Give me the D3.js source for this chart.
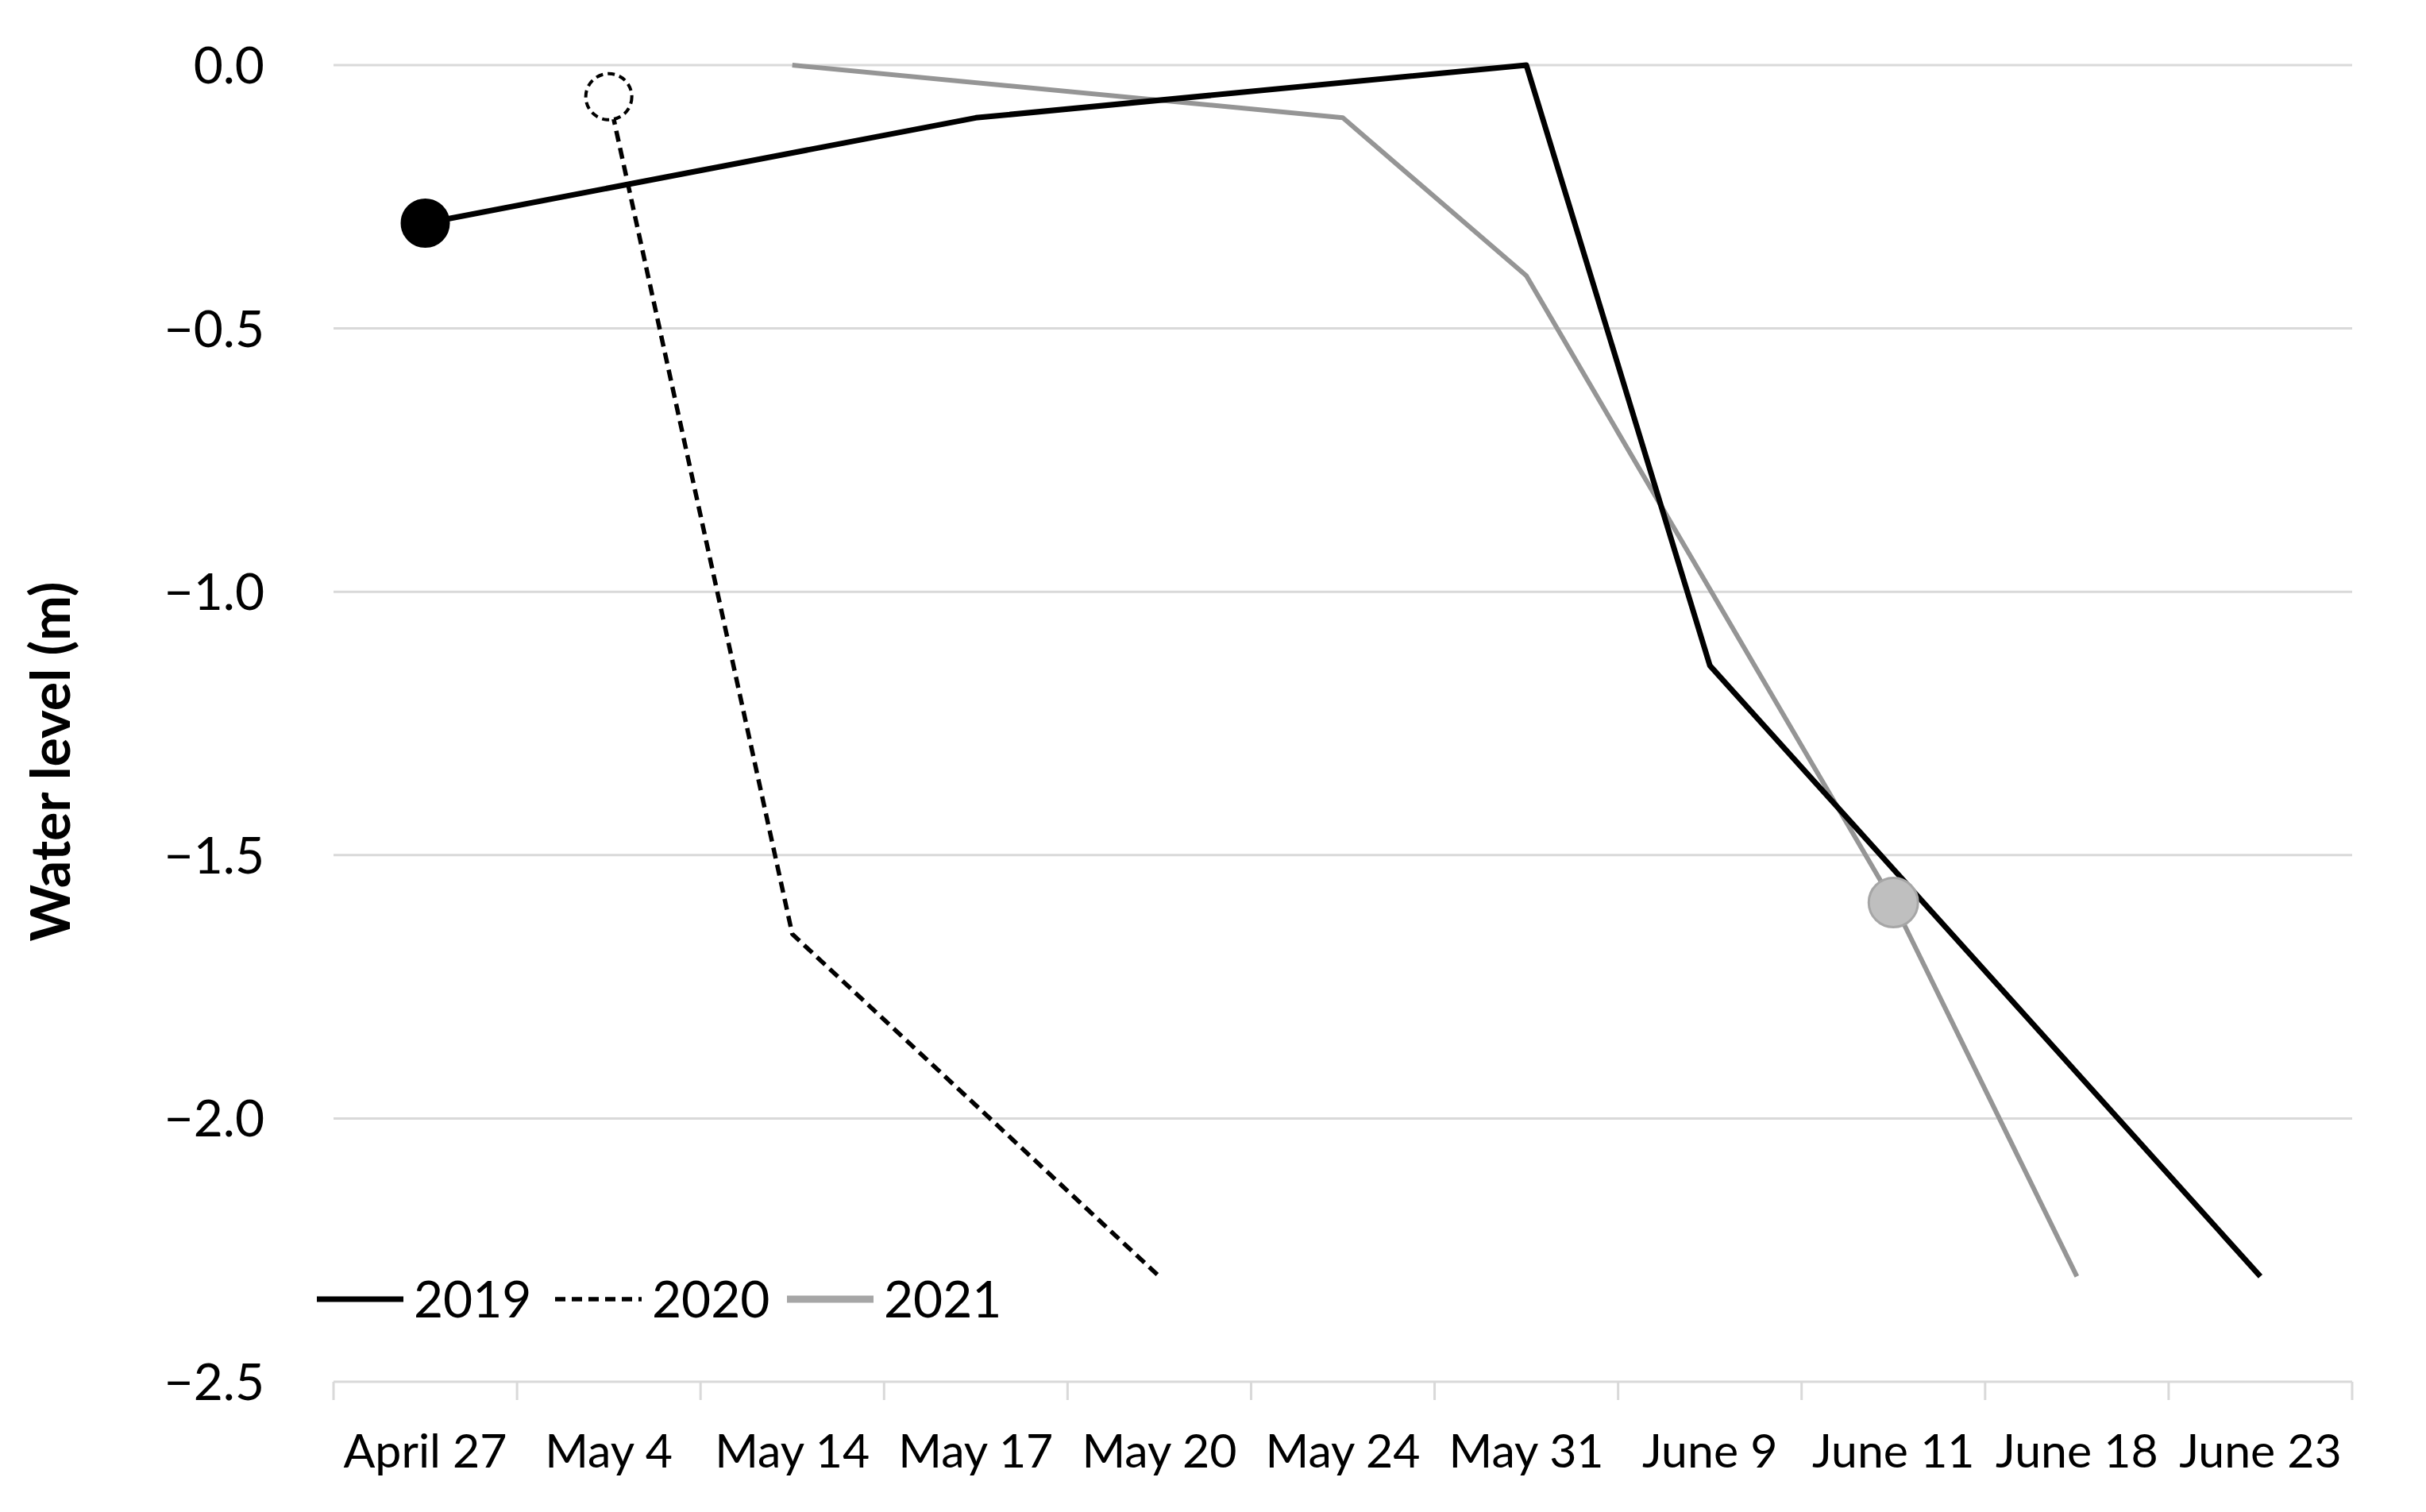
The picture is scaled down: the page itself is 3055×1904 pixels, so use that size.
<!DOCTYPE html>
<html>
<head>
<meta charset="utf-8">
<script src="https://cdn.jsdelivr.net/npm/d3@7"></script>
<style>
  body { margin: 0; background: #ffffff; }
  text { font-family: Lato, "Open Sans", sans-serif; fill: #000000; }
</style>
</head>
<body>
<div class="chart"></div>
<script>
// water level chart

var categories = ["April 27", "May 4", "May 14", "May 17", "May 20", "May 24",
                  "May 31", "June 9", "June 11", "June 18", "June 23"];

// null = no reading that day (line connects over the gap)
var level2019 = [-0.30, null, null, -0.10, null, null, 0.00, -1.14, null, null, -2.30];
var level2020 = [null, -0.06, -1.65, null, -2.30, null, null, null, null, null, null];
var level2021 = [null, null, 0.00, null, null, -0.10, -0.40, null, -1.59, -2.30, null];

var seriesNames = ["2019", "2020", "2021"];
var markerDates = ["April 27", "May 4", "June 11"];

var yTicks = [0.0, -0.5, -1.0, -1.5, -2.0, -2.5];

var width = 3055,
    height = 1904;

var plotLeft = 420, plotRight = 2962, plotTop = 82, plotBottom = 1740;

var svg = d3.select("body").select(".chart").append("svg")
  .attr("width", width)
  .attr("height", height);

svg.append("rect")
  .attr("width", width)
  .attr("height", height)
  .attr("fill", "#ffffff");

var x = d3.scaleBand()
  .domain(categories)
  .range([plotLeft, plotRight])
  .padding(0);

var y = d3.scaleLinear()
  .domain([-2.5, 0])
  .range([plotBottom, plotTop]);

function cx(c) { return x(c) + x.bandwidth() / 2; }

// gridlines (the -2.5 one doubles as the category axis)
svg.selectAll(".grid")
  .data(yTicks)
  .enter()
  .append("line")
  .attr("class", "grid")
  .attr("x1", plotLeft)
  .attr("x2", plotRight)
  .attr("y1", function(d) { return y(d); })
  .attr("y2", function(d) { return y(d); })
  .style("stroke", "#d9d9d9")
  .style("stroke-width", 3);

// category ticks sit between the bands
var tickPos = categories.map(function(c) { return x(c); }).concat([plotRight]);
svg.selectAll(".xtick")
  .data(tickPos)
  .enter()
  .append("line")
  .attr("class", "xtick")
  .attr("x1", function(d) { return d; })
  .attr("x2", function(d) { return d; })
  .attr("y1", plotBottom)
  .attr("y2", plotBottom + 23)
  .style("stroke", "#d9d9d9")
  .style("stroke-width", 3);

svg.selectAll(".xlabel")
  .data(categories)
  .enter()
  .append("text")
  .attr("class", "xlabel")
  .attr("x", function(d) { return cx(d); })
  .attr("y", 1848)
  .attr("text-anchor", "middle")
  .style("font-size", "59px")
  .text(function(d) { return d; });

var fmt = d3.format(".1f");
svg.selectAll(".ylabel")
  .data(yTicks)
  .enter()
  .append("text")
  .attr("class", "ylabel")
  .attr("x", 333)
  .attr("y", function(d) { return y(d); })
  .attr("dy", "0.36em")
  .attr("text-anchor", "end")
  .style("font-size", "64px")
  .text(function(d) { return d === 0 ? "0.0" : fmt(d); });

svg.append("text")
  .attr("transform", "translate(64,959) rotate(-90)")
  .attr("text-anchor", "middle")
  .attr("dy", "0.35em")
  .style("font-size", "68px")
  .style("font-weight", "bold")
  .text("Water level (m)");

// lines
var styles = {
  "2019": { color: "#000000", width: 7, dash: null },
  "2020": { color: "#000000", width: 5.5, dash: "14,8" },
  "2021": { color: "#959595", width: 6, dash: null }
};
var values = { "2019": level2019, "2020": level2020, "2021": level2021 };

var line = d3.line()
  .x(function(d) { return cx(d.cat); })
  .y(function(d) { return y(d.v); });

function points(name) {
  return categories.map(function(c, i) { return { cat: c, v: values[name][i] }; })
    .filter(function(d) { return d.v !== null; });
}

["2021", "2020", "2019"].forEach(function(name) {
  var s = styles[name];
  svg.append("path")
    .datum(points(name))
    .attr("d", line)
    .style("fill", "none")
    .style("stroke", s.color)
    .style("stroke-width", s.width)
    .style("stroke-linejoin", "round")
    .style("stroke-dasharray", s.dash);
});

// start / event markers
var markerStyle = [
  { fill: "#000000", stroke: "#000000", sw: 2, dash: null, r: 30 },
  { fill: "#ffffff", stroke: "#000000", sw: 4, dash: "9,6", r: 29 },
  { fill: "#bfbfbf", stroke: "#a6a6a6", sw: 3, dash: null, r: 31 }
];
svg.selectAll(".marker")
  .data(seriesNames)
  .enter()
  .append("circle")
  .attr("class", "marker")
  .attr("cx", function(d, i) { return cx(markerDates[i]); })
  .attr("cy", function(d, i) {
    return y(values[d][categories.indexOf(markerDates[i])]);
  })
  .attr("r", function(d, i) { return markerStyle[i].r; })
  .style("fill", function(d, i) { return markerStyle[i].fill; })
  .style("stroke", function(d, i) { return markerStyle[i].stroke; })
  .style("stroke-width", function(d, i) { return markerStyle[i].sw; })
  .style("stroke-dasharray", function(d, i) { return markerStyle[i].dash; });

// legend
var legendX = [399, 699, 991];
var legendY = 1636;
var legend = svg.selectAll(".legend")
  .data(seriesNames)
  .enter()
  .append("g")
  .attr("class", "legend")
  .attr("transform", function(d, i) { return "translate(" + legendX[i] + "," + legendY + ")"; });

legend.append("line")
  .attr("x1", 0)
  .attr("x2", 109)
  .style("stroke", function(d) { return d === "2021" ? "#a6a6a6" : styles[d].color; })
  .style("stroke-width", function(d) { return d === "2021" ? 9 : styles[d].width; })
  .style("stroke-dasharray", function(d) { return d === "2020" ? "13,8" : null; });

legend.append("text")
  .attr("x", 122)
  .attr("dy", "0.36em")
  .style("font-size", "64px")
  .text(function(d) { return d; });
</script>
</body>
</html>
